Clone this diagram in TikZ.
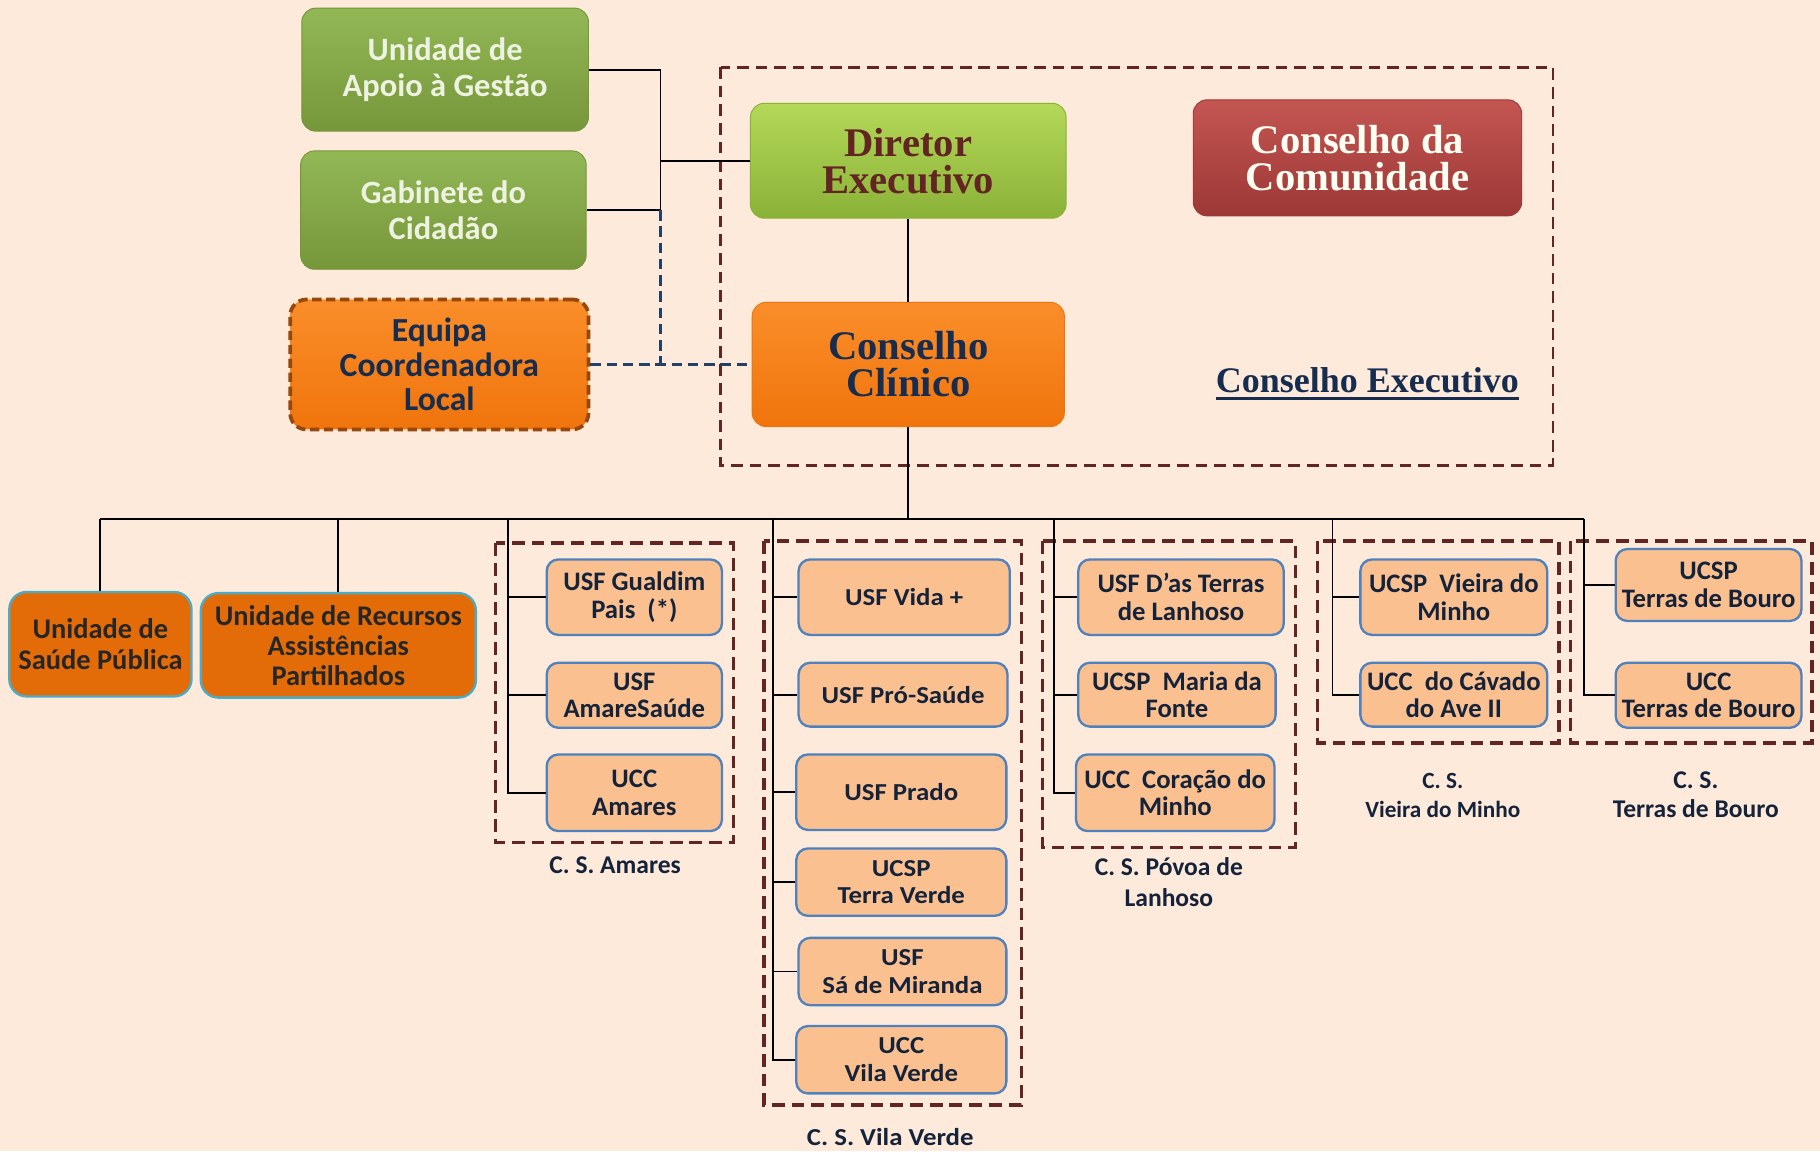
\documentclass[tikz,border=0pt]{standalone}
\usepackage{fontspec}
\setmainfont{Carlito}
\newfontfamily\headfont{Liberation Serif}
\newfontfamily\widefont[FakeStretch=1.1]{Carlito}
\usetikzlibrary{positioning}

\definecolor{bgpeach}{RGB}{253,234,218}
\definecolor{oliveTop}{RGB}{146,184,86}
\definecolor{oliveBot}{RGB}{118,150,58}
\definecolor{oliveText}{RGB}{238,243,225}
\definecolor{limeTop}{RGB}{180,216,88}
\definecolor{limeBot}{RGB}{138,178,56}
\definecolor{redTop}{RGB}{196,86,82}
\definecolor{redBot}{RGB}{156,56,54}
\definecolor{orangeTop}{RGB}{250,142,42}
\definecolor{orangeBot}{RGB}{240,116,12}
\definecolor{rustBorder}{RGB}{150,72,10}
\definecolor{maroon}{RGB}{99,37,35}
\definecolor{navy}{RGB}{23,45,80}
\definecolor{deeporange}{RGB}{227,108,9}
\definecolor{cyanline}{RGB}{75,172,198}
\definecolor{unitfill}{RGB}{250,192,144}
\definecolor{unitline}{RGB}{79,129,189}
\definecolor{unittext}{RGB}{20,34,58}
\definecolor{dashnavy}{RGB}{36,64,100}

\begin{document}
\begin{tikzpicture}[x=1pt,y=-1pt,every node/.append style={align=center},
  topgreen/.style={rounded corners=12pt,top color=oliveTop,bottom color=oliveBot,draw=oliveBot,line width=0.8pt,text=oliveText,font=\bfseries\fontsize{28}{31}\selectfont,inner sep=2pt},
  headbox/.style={rounded corners=12pt,line width=0.8pt,inner sep=2pt,font=\headfont\bfseries\fontsize{35}{32}\selectfont},
  service/.style={draw=cyanline,line width=2pt,fill=deeporange,rounded corners=15pt,text=black!85,font=\bfseries\fontsize{24.5}{26}\selectfont,inner sep=1pt},
  unit/.style={draw=unitline,line width=2pt,fill=unitfill,rounded corners=10pt,text=unittext,font=\bfseries\fontsize{23}{24}\selectfont,inner sep=1pt},
  wideunit/.style={unit,font=\widefont\bfseries\fontsize{21}{24}\selectfont},
  cslabel/.style={text=unittext,font=\bfseries\fontsize{22}{25}\selectfont},
  group/.style={draw=maroon,line width=3pt,dash pattern=on 11pt off 6pt},
  bigframe/.style={draw=maroon,line width=2.4pt,dash pattern=on 10pt off 6pt},
  tree/.style={line width=1.6pt},
  coordline/.style={draw=dashnavy,line width=2.6pt,dash pattern=on 9pt off 5pt},]
    \fill[bgpeach] (0,0) rectangle (1568,992);
    \useasboundingbox (0,0) rectangle (1568,992);

    % support units and executive council
    \node [topgreen, minimum width=247, minimum height=106] (apoio) at (383.5,60) {Unidade de\\Apoio à Gestão};
    \node [topgreen, minimum width=246, minimum height=102] (gabinete) at (382,181) {Gabinete do\\Cidadão};
    \node [rounded corners=14pt, top color=orangeTop, bottom color=orangeBot, draw=rustBorder, line width=3.2pt, dash pattern=on 8pt off 4pt, text=navy, font=\bfseries\fontsize{29}{30}\selectfont, minimum width=257, minimum height=112] (equipa) at (378.5,314) {Equipa\\Coordenadora\\Local};
    \node [headbox, top color=limeTop, bottom color=limeBot, draw=limeBot, text=maroon, minimum width=272, minimum height=99] (diretor) at (782.5,138.5) {Diretor\\Executivo};
    \node [headbox, top color=redTop, bottom color=redBot, draw=redBot, text=white!95!yellow, minimum width=283, minimum height=100] (comunidade) at (1169.5,136) {Conselho da\\Comunidade};
    \node [headbox, top color=orangeTop, bottom color=orangeBot, draw=orangeBot, text=navy, minimum width=269, minimum height=107] (clinico) at (782.5,314) {Conselho\\Clínico};
    \node [text=navy, font=\headfont\bfseries\fontsize{31}{32}\selectfont, inner sep=0pt, inner ysep=4pt] (cexec) at (1178,328) {Conselho Executivo};
    \draw[navy, line width=2.6pt] (cexec.south west) -- (cexec.south east);
    \draw[bigframe] (621,58) rectangle (1338,401);

    % services
    \node [service, minimum width=157, minimum height=90] (usp) at (86.5,555) {Unidade de\\Saúde Pública};
    \node [service, minimum width=237, minimum height=90] (ura) at (291.5,556) {Unidade de Recursos\\Assistências\\Partilhados};

    % C. S. Amares
    \node [unit, minimum width=151, minimum height=65] (gualdim) at (546.5,514.5) {USF Gualdim\\Pais~~(*)};
    \node [unit, minimum width=151, minimum height=56] (amaresaude) at (546.5,599) {USF\\AmareSaúde};
    \node [unit, minimum width=151, minimum height=66] (uccamares) at (546.5,683) {UCC\\Amares};
    \draw[group] (427,468) rectangle (632,726);
    \node [cslabel] (lamares) at (530,745) {C. S. Amares};

    % C. S. Vila Verde
    \node [wideunit, minimum width=182, minimum height=65] (vida) at (779,514.5) {USF Vida +};
    \node [wideunit, minimum width=180, minimum height=55] (prosaude) at (778,598.5) {USF Pró-Saúde};
    \node [wideunit, minimum width=181, minimum height=65] (prado) at (776.5,682.5) {USF Prado};
    \node [wideunit, minimum width=181, minimum height=58] (terraverde) at (776.5,760) {UCSP\\Terra Verde};
    \node [wideunit, minimum width=179, minimum height=58] (samiranda) at (777.5,837) {USF\\Sá de Miranda};
    \node [wideunit, minimum width=181, minimum height=58] (uccvila) at (776.5,913) {UCC\\Vila Verde};
    \draw[group] (658,466) rectangle (880,952);
    \node [cslabel, font=\widefont\bfseries\fontsize{21}{25}\selectfont] (lvila) at (767,980) {C. S. Vila Verde};

    % C. S. Povoa de Lanhoso
    \node [unit, minimum width=177, minimum height=65] (dasterras) at (1017.5,514.5) {USF D'as Terras\\de Lanhoso};
    \node [unit, minimum width=170, minimum height=55] (mariafonte) at (1014,598.5) {UCSP~~Maria da\\Fonte};
    \node [unit, minimum width=171, minimum height=66] (coracao) at (1012.5,683) {UCC~~Coração do\\Minho};
    \draw[group] (898,466) rectangle (1116,730);
    \node [cslabel, font=\bfseries\fontsize{22}{27}\selectfont] (lpovoa) at (1007,760) {C. S. Póvoa de\\Lanhoso};

    % C. S. Vieira do Minho
    \node [unit, minimum width=161, minimum height=65] (ucspvieira) at (1252.5,514.5) {UCSP~~Vieira do\\Minho};
    \node [unit, minimum width=161, minimum height=55] (cavado) at (1252.5,598.5) {UCC~~do Cávado\\do Ave II};
    \draw[group] (1135,466) rectangle (1343,640);
    \node [cslabel, font=\bfseries\fontsize{20}{25}\selectfont] (lvieira) at (1243,685) {C. S.\\Vieira do Minho};

    % C. S. Terras de Bouro
    \node [unit, minimum width=160, minimum height=62] (ucspterras) at (1472,504) {UCSP\\Terras de Bouro};
    \node [unit, minimum width=160, minimum height=56] (uccterras) at (1472,599) {UCC\\Terras de Bouro};
    \draw[group] (1353,466) rectangle (1561,640);
    \node [cslabel] (lterras) at (1461,685) {C. S.\\Terras de Bouro};

    % connectors at the top
    \coordinate (spine) at (569,60);
    \draw[tree] (apoio.east) -| (spine |- gabinete.east) -- (gabinete.east);
    \draw[tree] (diretor.west) -- (diretor.west -| spine);
    \draw[coordline] (spine |- gabinete.east) -- (spine |- equipa.east);
    \draw[coordline] (equipa.east) -- (clinico.west);
    \draw[tree] (diretor.south) -- (clinico.north);

    % main bus
    \coordinate (bus) at (782.5,447);
    \coordinate (amspine) at (438,447);
    \coordinate (vvspine) at (666,447);
    \coordinate (pvspine) at (908,447);
    \coordinate (vmspine) at (1148,447);
    \coordinate (tbspine) at (1365,447);
    \draw[tree] (clinico.south) -- (bus);
    \draw[tree, line width=2pt] (bus -| usp.north) -- (tbspine);
    \draw[tree] (bus -| usp.north) -- (usp.north);
    \draw[tree] (bus -| ura.north) -- (ura.north);

    \draw[tree] (amspine) |- (uccamares.west);
    \draw[tree] (amspine |- gualdim.west) -- (gualdim.west);
    \draw[tree] (amspine |- amaresaude.west) -- (amaresaude.west);

    \draw[tree] (vvspine) |- (uccvila.west);
    \draw[tree] (vvspine |- vida.west) -- (vida.west);
    \draw[tree] (vvspine |- prosaude.west) -- (prosaude.west);
    \draw[tree] (vvspine |- prado.west) -- (prado.west);
    \draw[tree] (vvspine |- terraverde.west) -- (terraverde.west);
    \draw[tree] (vvspine |- samiranda.west) -- (samiranda.west);

    \draw[tree] (pvspine) |- (coracao.west);
    \draw[tree] (pvspine |- dasterras.west) -- (dasterras.west);
    \draw[tree] (pvspine |- mariafonte.west) -- (mariafonte.west);

    \draw[tree] (vmspine) |- (cavado.west);
    \draw[tree] (vmspine |- ucspvieira.west) -- (ucspvieira.west);

    \draw[tree] (tbspine) |- (uccterras.west);
    \draw[tree] (tbspine |- ucspterras.west) -- (ucspterras.west);
\end{tikzpicture}
\end{document}
